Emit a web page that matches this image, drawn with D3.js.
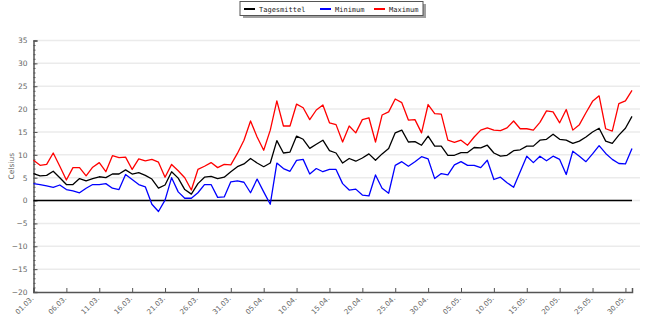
<!DOCTYPE html>
<html>
<head>
<meta charset="utf-8">
<script src="https://cdn.jsdelivr.net/npm/d3@7"></script>
<style>
  html, body { margin: 0; padding: 0; background: #fff; }
  svg { display: block; }
</style>
</head>
<body>
<div id="chart"></div>
<script>
// Daily temperatures 01.03. – 31.05. (°C)
const days = d3.range(92); // 0 = 01.03.

const tagesmittel = [
  5.9, 5.4, 5.5, 6.4, 5.0, 3.5, 3.5, 4.8, 4.3, 4.8,
  5.2, 5.0, 5.8, 5.8, 6.7, 5.8, 6.1, 5.5, 4.7, 2.7,
  3.4, 6.3, 4.9, 2.4, 1.4, 3.7, 5.1, 5.3, 4.8, 5.1,
  6.3, 7.4, 8.0, 9.2, 8.2, 7.4, 8.2, 13.1, 10.4, 10.6,
  14.1, 13.4, 11.4, 12.3, 13.2, 10.9, 10.4, 8.2, 9.2, 8.6,
  9.3, 10.2, 8.8, 10.2, 11.4, 14.8, 15.4, 12.8, 12.9, 12.1,
  14.1, 11.9, 11.9, 9.9, 9.9, 10.5, 10.5, 11.6, 11.5, 12.1,
  10.4, 9.7, 9.9, 10.9, 11.1, 11.9, 11.9, 13.2, 13.4, 14.5,
  13.4, 13.2, 12.5, 13.0, 13.9, 15.0, 15.8, 13.0, 12.5, 14.3,
  15.8, 18.4
];

const minimum = [
  3.7, 3.5, 3.2, 2.9, 3.4, 2.4, 2.1, 1.7, 2.7, 3.5,
  3.5, 3.7, 2.7, 2.4, 5.7, 4.6, 3.5, 3.0, -0.8, -2.4,
  0.1, 5.0, 1.9, 0.5, 0.5, 1.7, 3.5, 3.5, 0.7, 0.8,
  4.1, 4.3, 4.0, 1.7, 4.7, 1.9, -0.8, 8.2, 7.0, 6.4,
  8.8, 9.0, 5.8, 7.0, 6.3, 6.8, 6.8, 3.7, 2.3, 2.5,
  1.2, 1.0, 5.6, 2.7, 1.6, 7.7, 8.5, 7.5, 8.5, 9.6,
  9.1, 4.8, 5.9, 5.6, 7.8, 8.5, 7.7, 7.7, 7.2, 8.8,
  4.6, 5.1, 3.9, 2.9, 6.3, 9.7, 8.3, 9.7, 8.7, 9.7,
  9.0, 5.7, 10.8, 9.7, 8.5, 10.2, 12.0, 10.3, 9.0, 8.1,
  8.0, 11.4
];

const maximum = [
  8.8, 7.7, 7.9, 10.4, 7.5, 4.5, 7.2, 7.2, 5.4, 7.3,
  8.3, 6.3, 9.8, 9.4, 9.5, 6.8, 9.1, 8.7, 9.0, 8.4,
  5.1, 7.9, 6.5, 5.0, 2.3, 6.8, 7.5, 8.3, 7.2, 7.9,
  7.8, 10.3, 13.2, 17.4, 13.9, 11.0, 15.4, 21.8, 16.3, 16.3,
  21.1, 20.3, 17.7, 19.8, 20.9, 17.0, 16.6, 12.8, 16.3, 14.8,
  17.7, 18.1, 12.8, 18.7, 19.4, 22.2, 21.4, 17.6, 17.7, 14.8,
  21.0, 19.0, 18.9, 13.2, 12.7, 13.2, 12.1, 13.9, 15.4, 15.9,
  15.4, 15.3, 15.9, 17.4, 15.7, 15.7, 15.4, 17.1, 19.6, 19.4,
  17.0, 19.9, 15.4, 16.6, 19.2, 21.7, 22.9, 15.7, 15.2, 21.2,
  21.8, 24.1
];

const tickDays = [0, 5, 10, 15, 20, 25, 30, 35, 40, 45, 50, 55, 60, 65, 70, 75, 80, 85, 90];
const tickLabels = [
  "01.03.", "06.03.", "11.03.", "16.03.", "21.03.", "26.03.", "31.03.",
  "05.04.", "10.04.", "15.04.", "20.04.", "25.04.", "30.04.",
  "05.05.", "10.05.", "15.05.", "20.05.", "25.05.", "30.05."
];
const yTicks = [-20, -15, -10, -5, 0, 5, 10, 15, 20, 25, 30, 35];

const seriesNames = ["Tagesmittel", "Minimum", "Maximum"];
const seriesColors = ["#000000", "#0000ff", "#ff0000"];
const seriesValues = [tagesmittel, minimum, maximum];

const W = 664, H = 332;
const plot = { left: 33.5, right: 632, top: 40.5, bottom: 292 };

const svg = d3.select("#chart").append("svg")
  .attr("width", W).attr("height", H);

const x = d3.scaleLinear().domain([0, 91]).range([plot.left, plot.right]);
const y = d3.scaleLinear().domain([-20, 35]).range([plot.bottom, plot.top]);

const labelFont = "Verdana, 'DejaVu Sans', sans-serif";
const labelColor = "#666";

// horizontal grid every 5 °C
svg.append("g")
  .selectAll("line")
  .data(yTicks.filter(v => v !== -20))
  .join("line")
  .attr("x1", plot.left + 1).attr("x2", plot.right + 8)
  .attr("y1", d => y(d)).attr("y2", d => y(d))
  .attr("stroke", "#ebebeb").attr("stroke-width", 1.5);

// y axis: minor ticks every 1 °C, major every 5 °C (pointing into the plot)
const yMinor = d3.axisLeft(y).tickValues(d3.range(-20, 36, 1)).tickSize(-2).tickFormat("");
const yMajor = d3.axisLeft(y).tickValues(yTicks).tickSize(-4).tickPadding(6);

const gyMinor = svg.append("g").attr("transform", `translate(${plot.left},0)`).call(yMinor);
gyMinor.select(".domain").remove();
gyMinor.selectAll("line").attr("stroke", "#555");

const gy = svg.append("g").attr("transform", `translate(${plot.left},0)`).call(yMajor);
gy.select(".domain").attr("stroke", "#555").attr("stroke-width", 1.5);
gy.selectAll("line").attr("stroke", "#555");
gy.selectAll("text")
  .attr("font-family", labelFont).attr("font-size", 7.5).attr("fill", labelColor);

// x axis with ticks every 5 days
const xAxis = d3.axisBottom(x).tickValues(tickDays).tickSize(-4)
  .tickFormat((d, i) => tickLabels[i]);
const gx = svg.append("g").attr("transform", `translate(0,${plot.bottom})`).call(xAxis);
gx.select(".domain").attr("stroke", "#555").attr("stroke-width", 1.5);
gx.selectAll("line").attr("stroke", "#555");
gx.selectAll("text")
  .attr("font-family", labelFont).attr("font-size", 7).attr("fill", labelColor)
  .attr("text-anchor", "end")
  .attr("dy", null).attr("y", null)
  .attr("transform", "translate(0,7) rotate(-45)");

// zero line
svg.append("line")
  .attr("x1", plot.left).attr("x2", plot.right)
  .attr("y1", y(0)).attr("y2", y(0))
  .attr("stroke", "#000").attr("stroke-width", 1.6);

// axis title
svg.append("text")
  .attr("transform", `translate(14,${y(7.5)}) rotate(-90)`)
  .attr("text-anchor", "middle")
  .attr("font-family", labelFont).attr("font-size", 7.5).attr("fill", labelColor)
  .text("Celsius");

// temperature lines
const line = d3.line().x((d, i) => x(days[i])).y(d => y(d));
const order = [0, 1, 2];
svg.append("g")
  .selectAll("path")
  .data(order)
  .join("path")
  .attr("d", k => line(seriesValues[k]))
  .attr("fill", "none")
  .attr("stroke", k => seriesColors[k])
  .attr("stroke-width", 1.3)
  .attr("stroke-linejoin", "round");

// legend box with drop shadow
const lg = svg.append("g").attr("transform", "translate(240,1.5)");
lg.append("rect").attr("x", 3).attr("y", 2.5).attr("width", 183).attr("height", 14)
  .attr("fill", "#a0a0a0");
lg.append("rect").attr("x", 0).attr("y", 0).attr("width", 183).attr("height", 14)
  .attr("fill", "#fff").attr("stroke", "#555").attr("stroke-width", 1);

const legendX = [4, 80, 134];
const legendItems = lg.selectAll("g.item")
  .data(order)
  .join("g")
  .attr("class", "item")
  .attr("transform", (k, i) => `translate(${legendX[i]},0)`);
legendItems.append("line")
  .attr("x1", 0).attr("x2", 11).attr("y1", 7.5).attr("y2", 7.5)
  .attr("stroke", k => seriesColors[k]).attr("stroke-width", 2);
legendItems.append("text")
  .attr("x", 15).attr("y", 10)
  .attr("font-family", "'DejaVu Sans Mono', monospace").attr("font-size", 7)
  .attr("fill", "#222")
  .text(k => seriesNames[k]);
</script>
</body>
</html>
